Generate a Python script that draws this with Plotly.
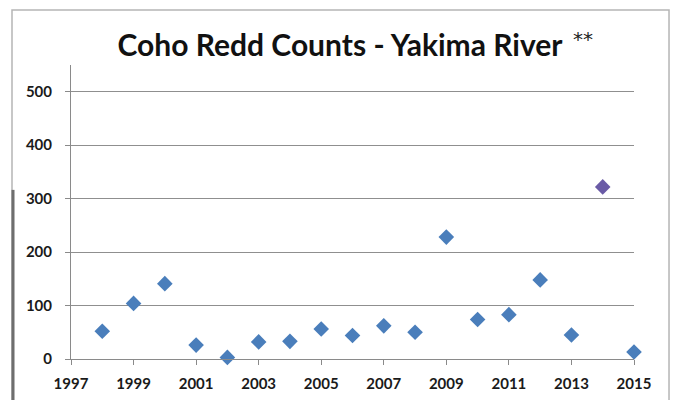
import plotly.graph_objects as go

years = [1998, 1999, 2000, 2001, 2002, 2003, 2004, 2005, 2006, 2007, 2008,
         2009, 2010, 2011, 2012, 2013, 2014, 2015]
redds = [52, 104, 141, 26, 3, 32, 33, 56, 44, 62, 50,
         228, 74, 83, 148, 45, 322, 13]
highlight_year = 2014
x_ticks = [1997, 1999, 2001, 2003, 2005, 2007, 2009, 2011, 2013, 2015]
y_ticks = [0, 100, 200, 300, 400, 500]
title_text = "Coho Redd Counts - Yakima River"
title_mark = "**"

BLUE = "#4A7EBB"
PURPLE = "#6A5BA6"
colors = [PURPLE if y == highlight_year else BLUE for y in years]

fig = go.Figure()
fig.add_trace(go.Scatter(
    x=years, y=redds, mode="markers",
    marker=dict(symbol="diamond", size=12, color=colors,
                line=dict(width=0)),
    cliponaxis=False, showlegend=False,
))

tickfont = dict(family="Lato", size=15, color="#1a1a1a", weight="bold")

fig.update_layout(
    width=675, height=400,
    margin=dict(l=71, r=41, t=65, b=41, autoexpand=False),
    paper_bgcolor="white", plot_bgcolor="white",
    title=dict(text=title_text,
               font=dict(family="Lato", size=30, color="#111", weight="bold"),
               x=340 / 675, xanchor="center", xref="container",
               y=1 - 45 / 400, yanchor="middle", yref="container"),
    annotations=[
        dict(text=title_mark, xref="paper", yref="paper",
             x=(583 - 71) / 563, y=(359.3 - 39) / 294.3,
             xanchor="center", yanchor="middle", showarrow=False,
             font=dict(family="DejaVu Sans", size=20, color="#222")),
    ],
    xaxis=dict(range=[1997, 2015], tickvals=x_ticks,
               ticktext=[str(v) for v in x_ticks],
               showgrid=False, zeroline=False, automargin=False,
               showline=True, linecolor="#8a8a8a", linewidth=1,
               ticks="outside", ticklen=5, tickcolor="#8a8a8a",
               ticklabelstandoff=6, tickfont=tickfont),
    yaxis=dict(range=[0, 550], tickvals=y_ticks,
               ticktext=[str(v) for v in y_ticks],
               showgrid=True, gridcolor="#8f8f8f", gridwidth=1,
               zeroline=False, automargin=False,
               showline=True, linecolor="#8a8a8a", linewidth=1,
               ticks="outside", ticklen=5, tickcolor="#8a8a8a",
               ticklabelstandoff=10, tickfont=tickfont),
    shapes=[
        dict(type="rect", xref="paper", yref="paper",
             x0=-0.1048, x1=1.0622, y0=-0.16, y1=1.1869,
             line=dict(color="#b5b5b5", width=1.5), layer="below"),
        dict(type="line", xref="paper", yref="paper",
             x0=-0.1030, x1=-0.1030, y0=-0.16, y1=(359.3 - 190) / 294.3,
             line=dict(color="#6e6e6e", width=3)),
    ],
)

fig.write_html("out.html")
